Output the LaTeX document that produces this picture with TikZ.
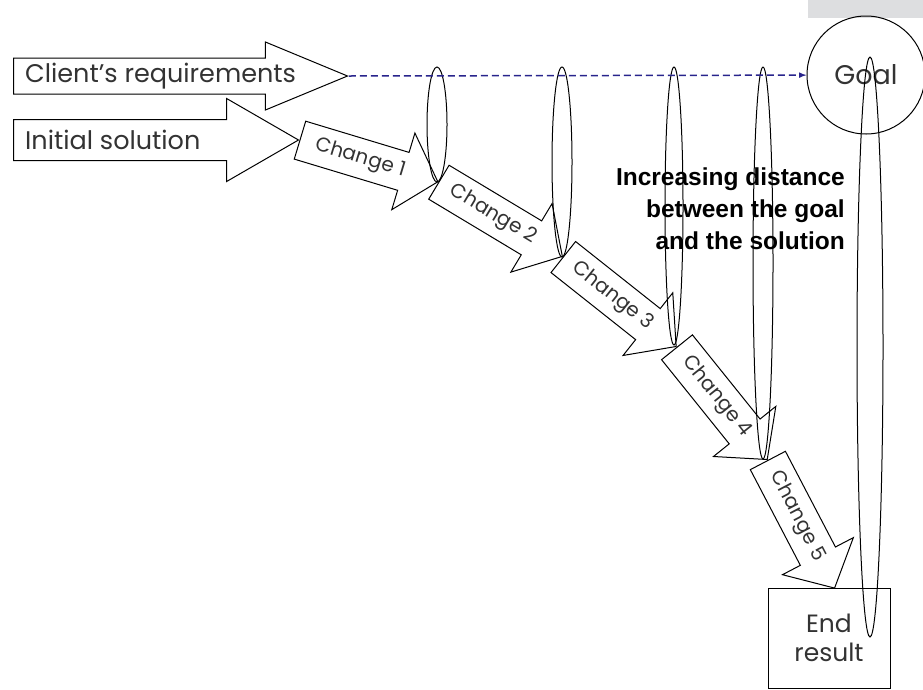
\documentclass[tikz,border=0pt]{standalone}
\usepackage{fontspec}
\setmainfont{Poppins}
\newfontfamily\notefont{Liberation Sans}
\usetikzlibrary{shapes.arrows,shapes.geometric}
\definecolor{reqblue}{RGB}{40,36,140}
\definecolor{cornergray}{RGB}{221,222,224}
\colorlet{inkcolor}{black!80}
\tikzstyle{bigarrow} = [
    single arrow,
    draw,
    fill=white,
    line width=1pt,
    inner xsep=0pt
    ]
\tikzstyle{changearrow} = [
    single arrow,
    draw,
    fill=white,
    line width=1pt,
    minimum height=144pt,
    minimum width=80pt,
    single arrow head extend=20pt,
    single arrow tip angle=96,
    inner xsep=2pt,
    inner ysep=9pt,
    text=inkcolor,
    font=\fontsize{20}{20}\selectfont
    ]
\tikzstyle{stretch} = [
    ellipse,
    draw,
    line width=1pt,
    inner sep=0pt
    ]
\tikzstyle{plainlabel} = [
    text=inkcolor,
    inner sep=0pt,
    font=\fontsize{25.5}{25.5}\selectfont
    ]
\tikzstyle{reqline} = [
    reqblue,
    line width=1.5pt,
    dash pattern=on 7pt off 4pt,
    -latex
    ]

\begin{document}
\begin{tikzpicture}[x=1pt,y=-1pt]
\useasboundingbox (0,0) rectangle (923,689);
\fill[cornergray] (808,0) rectangle (923,18);

% the two inputs
\node[bigarrow, minimum height=334pt, inner ysep=17.5pt,
    single arrow head extend=16pt, single arrow tip angle=45,
    anchor=tail] (client) at (13,76) {};
\node[bigarrow, minimum height=285pt, inner ysep=20pt,
    single arrow head extend=21pt, single arrow tip angle=60,
    anchor=tail] (initial) at (13,140) {};
\node[plainlabel, anchor=west] (clienttext) at ([xshift=12pt]client.tail) {Client's requirements};
\node[plainlabel, anchor=west] (initialtext) at ([xshift=12pt]initial.tail) {Initial solution};

% chain of changes
\node[changearrow, rotate=-16.8, anchor=tail] (c1) at (initial.tip) {Change 1};
\node[changearrow, rotate=-31.0, anchor=tail] (c2) at (c1.tip) {Change 2};
\node[changearrow, rotate=-38.4, anchor=tail] (c3) at (c2.tip) {Change 3};
\node[changearrow, rotate=-51.2, anchor=tail] (c4) at (c3.tip) {Change 4};
\node[changearrow, rotate=-62.4, anchor=tail] (c5) at (c4.tip) {Change 5};

\node[draw, line width=1pt, minimum width=122pt, minimum height=100pt,
    align=center, plainlabel, font=\fontsize{25}{29}\selectfont,
    inner sep=0pt] (endresult) at (829,638) {End\\result};
\node[circle, draw, line width=1pt, minimum size=118pt, plainlabel,
    font=\fontsize{27}{27}\selectfont] (goal) at (866,75) {Goal};

% distance to the goal
\node[stretch, minimum width=20pt, minimum height=115pt] (e1) at (437,124.5) {};
\node[stretch, minimum width=20pt, minimum height=190pt] (e2) at (562,162) {};
\node[stretch, minimum width=18pt, minimum height=278pt] (e3) at (674,206) {};
\node[stretch, minimum width=20pt, minimum height=392pt] (e4) at (763,263) {};
\node[stretch, minimum width=26pt, minimum height=580pt] (e5) at (870,347) {};

\draw[reqline] (client.tip) -- (goal);

\node[anchor=north east, align=right, inner sep=0pt,
    font=\notefont\bfseries\fontsize{24.5}{32}\selectfont] (gapnote) at (845,167.5)
    {Increasing distance\\between the goal\\and the solution};
\end{tikzpicture}
\end{document}
